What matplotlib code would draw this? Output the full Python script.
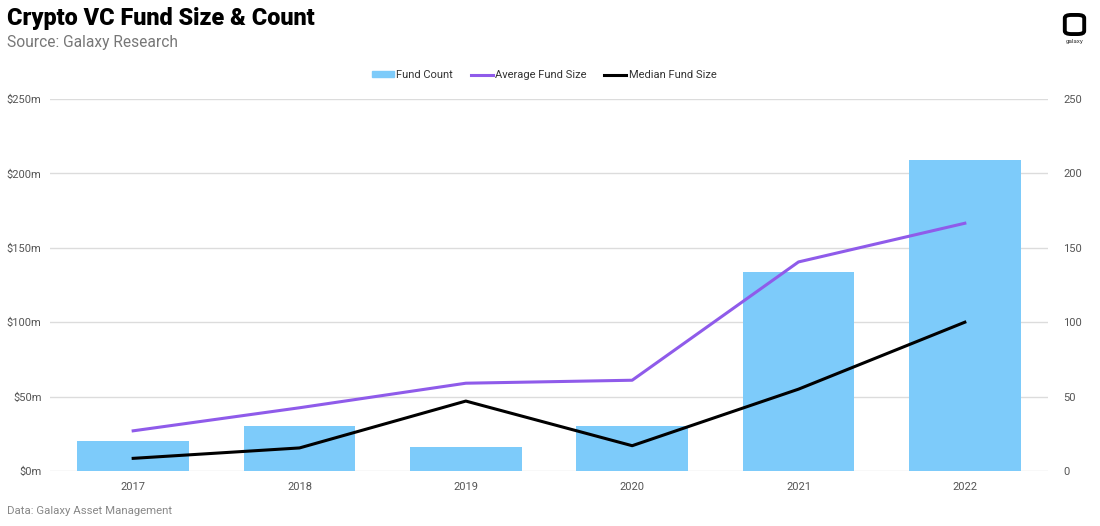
import numpy as np
import matplotlib
matplotlib.use("Agg")
import matplotlib.pyplot as plt
from matplotlib.patches import FancyBboxPatch
from matplotlib.lines import Line2D
from matplotlib.patches import Patch

plt.rcParams['font.family'] = ['Roboto', 'DejaVu Sans']

years = ["2017", "2018", "2019", "2020", "2021", "2022"]
fund_count = [20, 30, 16, 30, 134, 209]
avg_size = [27, 42.5, 59, 61, 140.5, 166.5]
median_size = [8.5, 15.5, 47, 17, 55, 100]

BAR = "#7DCBFA"; PURPLE = "#8F5BEA"; GRID = "#dcdcdc"; TXT = "#555555"

fig = plt.figure(figsize=(11, 5.26), dpi=100)
ax = fig.add_axes([50/1100, 55/526, 998/1100, 372/526])
ax2 = ax.twinx()
x = np.arange(len(years))

ax2.bar(x, fund_count, width=0.67, color=BAR, zorder=1)
ax2.set_ylim(0, 250)
ax.set_ylim(0, 250)
ax.set_zorder(ax2.get_zorder() + 1); ax.patch.set_visible(False)
ax.plot(x, avg_size, color=PURPLE, lw=2.2, zorder=3)
ax.plot(x, median_size, color="black", lw=2.2, zorder=3)
ax.set_xlim(-0.5, 5.5)

ticks = np.arange(0, 251, 50)
ax.set_yticks(ticks); ax.set_yticklabels([f"${t}m" for t in ticks])
ax2.set_yticks(ticks); ax2.set_yticklabels([str(t) for t in ticks])
ax2.set_xticks(x)
ax.set_xticks(x); ax.set_xticklabels(years)
for t in ticks:
    ax2.axhline(t, color=GRID, lw=1, zorder=0)
for a in (ax, ax2):
    for s in a.spines.values():
        s.set_visible(False)
    a.tick_params(length=0, labelsize=8, labelcolor=TXT)
ax.tick_params(axis="y", pad=6)
ax2.tick_params(axis="y", pad=11)
ax.tick_params(axis="x", pad=8)

handles = [Patch(color=BAR), Line2D([], [], color=PURPLE, lw=2.2), Line2D([], [], color="black", lw=2.2)]
fig.legend(handles, ["Fund Count", "Average Fund Size", "Median Fund Size"], loc="center",
           bbox_to_anchor=(544/1100, 1 - 75/526), ncol=3, frameon=False, fontsize=8,
           handlelength=2.0, handleheight=0.45, handletextpad=0.2, columnspacing=1.6, labelcolor="#333333")

fig.text(7/1100, 1 - 19/526, "Crypto VC Fund Size & Count", fontsize=16.8, fontweight="heavy", va="center", color="black")
fig.text(7/1100, 1 - 43/526, "Source: Galaxy Research", fontsize=11.2, va="center", color="#777777")
fig.text(7/1100, 1 - 511/526, "Data: Galaxy Asset Management", fontsize=8.2, va="center", color="#888888")

# logo
fig.patches.append(FancyBboxPatch((1067/1100, 1 - 33/526), 15/1100, 17/526, boxstyle="round,pad=0.002,rounding_size=0.006",
                                  transform=fig.transFigure, fill=False, lw=2.8, ec="black"))
fig.text(1075/1100, 1 - 42/526, "galaxy", fontsize=4.5, ha="center", va="center", color="#333333")

fig.savefig("out.png", dpi=100, facecolor="white")
